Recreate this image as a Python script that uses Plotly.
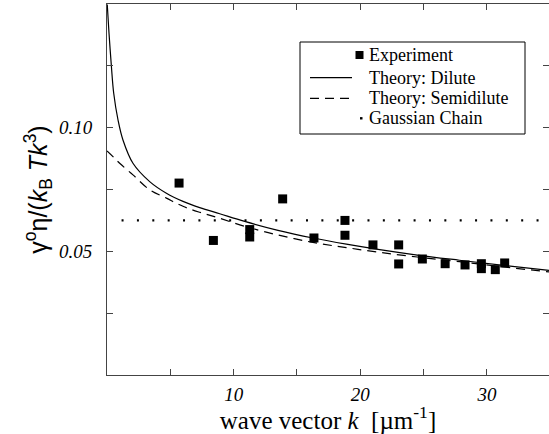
import plotly.graph_objects as go

# Experiment data
exp_k = [5.69, 8.4, 11.27, 11.27, 13.87, 16.34, 18.79, 18.79, 21.0, 23.03, 23.03,
         24.9, 26.7, 28.27, 29.56, 29.56, 30.66, 31.4]
exp_y = [0.0776, 0.0544, 0.0588, 0.0558, 0.0712, 0.0554, 0.0625, 0.0565, 0.0526, 0.0526, 0.0449,
         0.0469, 0.0450, 0.0445, 0.0450, 0.0430, 0.0426, 0.0453]

# Theory: Dilute
dil_k = [0.02, 0.16, 0.35, 0.53, 0.87, 1.26, 2.05, 3.37, 4.69, 6.0, 7.32, 8.9, 10.87, 13.5,
         16.26, 18.9, 21.53, 24.5, 27.83, 31.3, 34.9]
dil_y = [0.1498, 0.1381, 0.1246, 0.1139, 0.1031, 0.0950, 0.0856, 0.0782, 0.0735, 0.0702, 0.0677,
         0.0652, 0.0621, 0.0585, 0.0554, 0.0529, 0.0507, 0.0485, 0.0464, 0.0443, 0.0423]

# Theory: Semidilute
semi_k = [0.0, 0.47, 1.0, 2.05, 3.37, 4.69, 6.0, 7.32, 8.77, 10.87, 13.5, 16.26, 18.9, 21.53,
          24.5, 27.83, 31.3, 34.9]
semi_y = [0.0906, 0.0883, 0.0856, 0.0809, 0.0749, 0.0715, 0.0682, 0.0658, 0.0636, 0.0601, 0.0566,
          0.0536, 0.0515, 0.0496, 0.0477, 0.0458, 0.0437, 0.0417]

# Gaussian chain (constant)
gauss_k = [1.15, 34.9]
gauss_y = [0.0625, 0.0625]

x_ticks = [10, 20, 30]
x_ticktext = ["10", "20", "30"]
y_ticks = [0.05, 0.10]
y_ticktext = ["0.05", "0.10"]

legend_labels = ["Experiment", "Theory: Dilute", "Theory: Semidilute", "Gaussian Chain"]

SERIF = "Liberation Serif, Times New Roman, Times, serif"
SANS = "Liberation Sans, Arial, Helvetica, sans-serif"

# plot area in pixels (for placing the hand-drawn legend in paper coordinates)
W, H = 549, 434
ML, MR, MT, MB = 107, 0, 4, 59
PW, PH = W - ML - MR, H - MT - MB


def px(xp):
    return (xp - ML) / PW


def py(yp):
    return (H - MB - yp) / PH


fig = go.Figure()
fig.add_trace(go.Scatter(x=exp_k, y=exp_y, mode="markers", name=legend_labels[0], showlegend=False,
                         marker=dict(symbol="square", size=9, color="black")))
fig.add_trace(go.Scatter(x=dil_k, y=dil_y, mode="lines", name=legend_labels[1], showlegend=False,
                         line=dict(color="black", width=1.2, shape="spline")))
fig.add_trace(go.Scatter(x=semi_k, y=semi_y, mode="lines", name=legend_labels[2], showlegend=False,
                         line=dict(color="black", width=1.2, shape="spline", dash="9px,6px")))
fig.add_trace(go.Scatter(x=gauss_k, y=gauss_y, mode="lines", name=legend_labels[3], showlegend=False,
                         line=dict(color="black", width=2.2, dash="2px,13.37px")))

axis_common = dict(showgrid=False, zeroline=False, showline=True, linecolor="#444",
                   linewidth=1, mirror="ticks", ticks="inside", ticklen=6, tickcolor="#444",
                   tickfont=dict(family=SERIF, size=19, color="black", style="italic"))

fig.update_xaxes(range=[0, 34.9], tickvals=x_ticks, ticktext=x_ticktext, ticklabelstandoff=2,
                 minor=dict(tickvals=[5, 15, 25], ticks="inside", ticklen=6, tickcolor="#444",
                            showgrid=False),
                 title=dict(text="wave vector <i>k</i>  [µm<sup>-1</sup>]",
                            font=dict(family=SERIF, size=25, color="black"), standoff=0),
                 **axis_common)
fig.update_yaxes(range=[0, 0.15], tickvals=y_ticks, ticktext=y_ticktext, ticklabelstandoff=10,
                 minor=dict(tickvals=[0.025, 0.075, 0.125], ticks="inside", ticklen=6, tickcolor="#444",
                            showgrid=False),
                 title=dict(text="γ<sup>o</sup>η/(<i>k</i><sub>B</sub> <i>Tk</i><sup>3</sup>)",
                            font=dict(family=SANS, size=25, color="black"), standoff=4),
                 **axis_common)

# Legend drawn as box + samples + text
shapes = [dict(type="rect", xref="paper", yref="paper", x0=px(300), x1=px(525), y0=py(134), y1=py(42),
               line=dict(color="black", width=1), fillcolor="white", layer="above")]
rows = [55, 77.7, 98.3, 118.3]
shapes.append(dict(type="rect", xref="paper", yref="paper", x0=px(355.5), x1=px(363.5),
                   y0=py(rows[0] + 4), y1=py(rows[0] - 4), line=dict(width=0), fillcolor="black",
                   layer="above"))
shapes.append(dict(type="line", xref="paper", yref="paper", x0=px(310), x1=px(352),
                   y0=py(rows[1]), y1=py(rows[1]), line=dict(color="black", width=1.2), layer="above"))
shapes.append(dict(type="line", xref="paper", yref="paper", x0=px(310), x1=px(355),
                   y0=py(rows[2]), y1=py(rows[2]), line=dict(color="black", width=1.2, dash="9px,6px"),
                   layer="above"))
shapes.append(dict(type="rect", xref="paper", yref="paper", x0=px(360), x1=px(362.5),
                   y0=py(rows[3] + 1.2), y1=py(rows[3] - 1.2), line=dict(width=0), fillcolor="black",
                   layer="above"))

annotations = []
for lab, r in zip(legend_labels, rows):
    annotations.append(dict(text=lab, xref="paper", yref="paper", x=px(367), y=py(r),
                            xanchor="left", yanchor="middle", showarrow=False,
                            font=dict(family=SERIF, size=18, color="black")))

fig.update_layout(
    width=W, height=H,
    margin=dict(l=ML, r=MR, t=MT, b=MB),
    plot_bgcolor="white", paper_bgcolor="white",
    showlegend=False,
    shapes=shapes,
    annotations=annotations,
)

fig.write_html("out.html")
